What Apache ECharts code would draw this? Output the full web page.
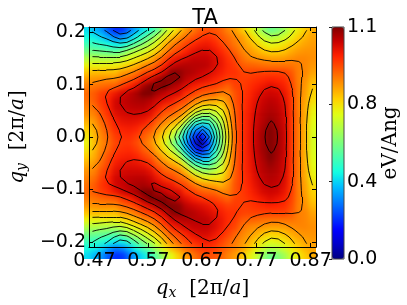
<!DOCTYPE html>
<html><head><meta charset="utf-8">
<style>html,body{margin:0;padding:0;background:#fff}#c{width:407px;height:305px}
canvas[data-zr-dom-id="zr_1"]{filter:blur(2.5px);clip-path:inset(27px 91px 46px 84px)}</style>
<script src="https://cdn.jsdelivr.net/npm/echarts@6/dist/echarts.min.js"></script>
</head><body><div id="c"></div>
<script>
const title = 'TA';
const qxRange = [0.46, 0.88];
const qyRange = [-0.21, 0.21];
const qxTicks = [0.47, 0.57, 0.67, 0.77, 0.87];
const qyTicks = [-0.2, -0.1, 0, 0.1, 0.2];
const cbarMax = 1.14;
const cbarTicks = [0, 0.38, 0.76, 1.14];
const contourLevels = [0.08,0.16,0.24,0.32,0.40,0.48,0.56,0.64,0.72,0.80,0.88,0.96,1.04,1.12];
const jet = ['#000080','#0000c8','#0000ff','#0040ff','#0080ff','#00bfff','#14ffe2','#48ffaf','#7bff7b','#afff48','#e2ff14','#ffd200','#ff9700','#ff5c00','#ff2100','#c80000','#800000'];
// group velocity, eV/Ang; rows run from top (qy = +) to bottom (qy = -), columns left to right
const velocity = [
[.39,.35,.31,.24,.19,.20,.27,.34,.40,.46,.54,.64,.72,.79,.85,.89,.93,.945,.94,.92,.88,.85,.80,.74,.68,.60,.55,.57,.62,.69,.745,.79,.83],
[.43,.41,.38,.33,.28,.30,.36,.43,.50,.57,.65,.74,.81,.86,.91,.94,.97,.985,.97,.94,.91,.88,.85,.80,.74,.68,.645,.66,.69,.74,.785,.82,.84],
[.49,.47,.46,.43,.41,.42,.48,.54,.60,.66,.73,.82,.88,.92,.96,.99,1.01,1.02,1.0,.965,.93,.895,.86,.83,.79,.745,.72,.735,.755,.79,.82,.84,.85],
[.56,.55,.54,.53,.52,.56,.62,.66,.69,.74,.80,.87,.93,.96,1.0,1.03,1.05,1.05,1.025,.995,.96,.92,.88,.855,.83,.80,.78,.785,.80,.83,.85,.86,.86],
[.645,.645,.64,.64,.64,.67,.71,.74,.775,.82,.88,.94,1.0,1.03,1.05,1.07,1.07,1.07,1.05,1.02,.98,.955,.905,.875,.865,.855,.845,.845,.85,.865,.875,.875,.865],
[.73,.73,.73,.74,.74,.76,.79,.82,.87,.895,.94,1.0,1.06,1.08,1.09,1.085,1.085,1.08,1.05,1.025,.99,.97,.93,.92,.915,.905,.90,.90,.90,.90,.885,.875,.855],
[.80,.81,.81,.81,.81,.85,.865,.90,.945,.96,1.01,1.06,1.13,1.13,1.10,1.09,1.07,1.055,1.035,1.01,.985,.98,.96,.955,.96,.96,.96,.96,.96,.935,.885,.875,.84],
[.85,.86,.87,.87,.87,.91,.93,.965,1.02,1.05,1.10,1.17,1.18,1.13,1.08,1.06,1.045,1.03,1.005,.985,.965,.97,.965,.97,.98,.99,1.0,.995,.985,.95,.885,.865,.815],
[.885,.90,.91,.92,.93,.97,1.0,1.04,1.10,1.17,1.18,1.15,1.10,1.075,1.04,1.01,.99,.975,.965,.945,.92,.96,.965,.98,1.0,1.02,1.04,1.025,1.005,.96,.89,.855,.795],
[.91,.93,.965,.985,1.02,1.055,1.075,1.10,1.14,1.14,1.10,1.07,1.05,1.045,.985,.965,.935,.92,.915,.885,.885,.94,.97,.99,1.02,1.05,1.06,1.055,1.025,.97,.89,.845,.78],
[.90,.93,.975,1.0,1.055,1.07,1.085,1.095,1.10,1.085,1.055,1.035,1.02,.975,.95,.905,.865,.85,.84,.82,.87,.94,.975,1.0,1.035,1.065,1.08,1.07,1.04,.975,.89,.84,.765],
[.88,.905,.96,1.0,1.055,1.065,1.075,1.08,1.08,1.06,1.02,.975,.955,.92,.895,.815,.76,.735,.75,.76,.84,.93,.975,1.005,1.045,1.075,1.09,1.08,1.05,.975,.89,.83,.74],
[.86,.88,.94,.98,1.035,1.05,1.055,1.055,1.05,1.03,.975,.925,.91,.88,.81,.685,.63,.61,.65,.705,.82,.925,.98,1.01,1.055,1.085,1.10,1.09,1.055,.975,.895,.83,.725],
[.825,.855,.915,.96,1.01,1.03,1.035,1.03,1.015,.98,.92,.885,.84,.80,.68,.515,.46,.46,.56,.655,.80,.925,.98,1.015,1.06,1.09,1.12,1.095,1.06,.975,.895,.825,.715],
[.79,.83,.895,.945,.99,1.005,1.01,1.0,.965,.935,.875,.82,.76,.685,.50,.345,.30,.325,.465,.61,.785,.92,.98,1.015,1.065,1.10,1.16,1.105,1.065,.975,.895,.82,.705],
[.755,.815,.88,.92,.97,.985,.99,.97,.93,.895,.83,.76,.68,.56,.38,.24,.14,.24,.405,.58,.765,.92,.98,1.02,1.07,1.11,1.18,1.11,1.07,.975,.895,.82,.70],
[.73,.81,.87,.91,.955,.975,.975,.95,.91,.87,.80,.725,.61,.49,.34,.17,.00,.16,.375,.56,.75,.92,.98,1.02,1.07,1.11,1.18,1.11,1.07,.975,.895,.82,.695],
[.755,.815,.88,.92,.97,.985,.99,.97,.93,.895,.83,.76,.68,.56,.38,.24,.14,.24,.405,.58,.765,.92,.98,1.02,1.07,1.11,1.18,1.11,1.07,.975,.895,.82,.70],
[.79,.83,.895,.945,.99,1.005,1.01,1.0,.965,.935,.875,.82,.76,.685,.50,.345,.30,.325,.465,.61,.785,.92,.98,1.015,1.065,1.10,1.16,1.105,1.065,.975,.895,.82,.705],
[.825,.855,.915,.96,1.01,1.03,1.035,1.03,1.015,.98,.92,.885,.84,.80,.68,.515,.46,.46,.56,.655,.80,.925,.98,1.015,1.06,1.09,1.12,1.095,1.06,.975,.895,.825,.715],
[.86,.88,.94,.98,1.035,1.05,1.055,1.055,1.05,1.03,.975,.925,.91,.88,.81,.685,.63,.61,.65,.705,.82,.925,.98,1.01,1.055,1.085,1.10,1.09,1.055,.975,.895,.83,.725],
[.88,.905,.96,1.0,1.055,1.065,1.075,1.08,1.08,1.06,1.02,.975,.955,.92,.895,.815,.76,.735,.75,.76,.84,.93,.975,1.005,1.045,1.075,1.09,1.08,1.05,.975,.89,.83,.74],
[.90,.93,.975,1.0,1.055,1.07,1.085,1.095,1.10,1.085,1.055,1.035,1.02,.975,.95,.905,.865,.85,.84,.82,.87,.94,.975,1.0,1.035,1.065,1.08,1.07,1.04,.975,.89,.84,.765],
[.91,.93,.965,.985,1.02,1.055,1.075,1.10,1.14,1.14,1.10,1.07,1.05,1.045,.985,.965,.935,.92,.915,.885,.885,.94,.97,.99,1.02,1.05,1.06,1.055,1.025,.97,.89,.845,.78],
[.885,.90,.91,.92,.93,.97,1.0,1.04,1.10,1.17,1.18,1.15,1.10,1.075,1.04,1.01,.99,.975,.965,.945,.92,.96,.965,.98,1.0,1.02,1.04,1.025,1.005,.96,.89,.855,.795],
[.85,.86,.87,.87,.87,.91,.93,.965,1.02,1.05,1.10,1.17,1.18,1.13,1.08,1.06,1.045,1.03,1.005,.985,.965,.97,.965,.97,.98,.99,1.0,.995,.985,.95,.885,.865,.815],
[.80,.81,.81,.81,.81,.85,.865,.90,.945,.96,1.01,1.06,1.13,1.13,1.10,1.09,1.07,1.055,1.035,1.01,.985,.98,.96,.955,.96,.96,.96,.96,.96,.935,.885,.875,.84],
[.73,.73,.73,.74,.74,.76,.79,.82,.87,.895,.94,1.0,1.06,1.08,1.09,1.085,1.085,1.08,1.05,1.025,.99,.97,.93,.92,.915,.905,.90,.90,.90,.90,.885,.875,.855],
[.645,.645,.64,.64,.64,.67,.71,.74,.775,.82,.88,.94,1.0,1.03,1.05,1.07,1.07,1.07,1.05,1.02,.98,.955,.905,.875,.865,.855,.845,.845,.85,.865,.875,.875,.865],
[.56,.55,.54,.53,.52,.56,.62,.66,.69,.74,.80,.87,.93,.96,1.0,1.03,1.05,1.05,1.025,.995,.96,.92,.88,.855,.83,.80,.78,.785,.80,.83,.85,.86,.86],
[.49,.47,.46,.43,.41,.42,.48,.54,.60,.66,.73,.82,.88,.92,.96,.99,1.01,1.02,1.0,.965,.93,.895,.86,.83,.79,.745,.72,.735,.755,.79,.82,.84,.85],
[.43,.41,.38,.33,.28,.30,.36,.43,.50,.57,.65,.74,.81,.86,.91,.94,.97,.985,.97,.94,.91,.88,.85,.80,.74,.68,.645,.66,.69,.74,.785,.82,.84],
[.39,.35,.31,.24,.19,.20,.27,.34,.40,.46,.54,.64,.72,.79,.85,.89,.93,.945,.94,.92,.88,.85,.80,.74,.68,.60,.55,.57,.62,.69,.745,.79,.83]
];

const nRows = velocity.length, nCols = velocity[0].length;
const qxAt = j => qxRange[0] + (qxRange[1] - qxRange[0]) * (j + 0.5) / nCols;
const qyAt = i => qyRange[1] - (qyRange[1] - qyRange[0]) * (i + 0.5) / nRows;
const cellW = 232 / nCols;

// heatmap cells, with the border cells repeated one step outside the clipped frame
const xCats = [], yCats = [], cells = [];
for (let j = -1; j <= nCols; j++) xCats.push(String(j));
for (let i = -1; i <= nRows; i++) yCats.push(String(i));
const clampIdx = (k, n) => Math.max(0, Math.min(n - 1, k));
for (let i = -1; i <= nRows; i++) for (let j = -1; j <= nCols; j++)
  cells.push([j + 1, nRows - i, velocity[clampIdx(i, nRows)][clampIdx(j, nCols)]]);

// light smoothing of the read values for contour tracing, away from the central basin
const traced = velocity.map((row, i) => row.map((v, j) => {
  let s = 0, w = 0;
  for (let a = -1; a <= 1; a++) for (let b = -1; b <= 1; b++) {
    const wt = (2 - Math.abs(a)) * (2 - Math.abs(b));
    s += wt * velocity[clampIdx(i + a, nRows)][clampIdx(j + b, nCols)]; w += wt;
  }
  const t = Math.max(0, Math.min(1, (v - 0.35) / 0.3));
  return v * (1 - t) + (s / w) * t;
}));

function contourSegments(level) {
  const segs = [];
  const cross = (x1, y1, v1, x2, y2, v2) => {
    const t = (level - v1) / (v2 - v1);
    return [x1 + (x2 - x1) * t, y1 + (y2 - y1) * t];
  };
  for (let i = 0; i < nRows - 1; i++) for (let j = 0; j < nCols - 1; j++) {
    const x0 = qxAt(j), x1 = qxAt(j + 1), y0 = qyAt(i), y1 = qyAt(i + 1);
    const a = traced[i][j], b = traced[i][j + 1], c = traced[i + 1][j + 1], d = traced[i + 1][j];
    const pts = [];
    if ((a < level) !== (b < level)) pts.push(cross(x0, y0, a, x1, y0, b));
    if ((b < level) !== (c < level)) pts.push(cross(x1, y0, b, x1, y1, c));
    if ((d < level) !== (c < level)) pts.push(cross(x0, y1, d, x1, y1, c));
    if ((a < level) !== (d < level)) pts.push(cross(x0, y0, a, x0, y1, d));
    if (pts.length === 2) segs.push({coords: [pts[0], pts[1]]});
    if (pts.length === 4) { segs.push({coords: [pts[0], pts[1]]}); segs.push({coords: [pts[2], pts[3]]}); }
  }
  return segs;
}
const contourData = contourLevels.flatMap(contourSegments);

const tickFont = {fontFamily: 'DejaVu Sans', fontSize: 19, color: '#000'};
const chart = echarts.init(document.getElementById('c'), null, {renderer: 'canvas'});
const nameRich = {
  i: {fontFamily: 'DejaVu Serif', fontStyle: 'italic', fontSize: 20, color: '#000'},
  s: {fontFamily: 'DejaVu Serif', fontStyle: 'italic', fontSize: 14, color: '#000', verticalAlign: 'bottom', padding: [8, 0, 0, 0]},
  r: {fontFamily: 'DejaVu Serif', fontSize: 20, color: '#000'}
};
const frameAxis = {show: true, zlevel: 2, z: 5, axisLine: {show: true, onZero: false, lineStyle: {color: '#000', width: 1}}, splitLine: {show: false}};
const tick = vals => ({show: true, inside: true, length: 4, customValues: vals, lineStyle: {color: '#000', width: 1}});
chart.setOption({
  animation: false,
  title: {text: title, left: 200, top: 3, textAlign: 'center',
    textStyle: {fontFamily: 'DejaVu Sans', fontSize: 21, fontWeight: 'normal', color: '#000'}},
  grid: [
    {left: 84, top: 27, width: 232, height: 232},
    {left: 332, top: 27, width: 12, height: 232, show: true, z: 6, backgroundColor: 'transparent', borderColor: '#444', borderWidth: 1},
    {left: 84 - cellW, top: 27 - cellW, width: 232 + 2 * cellW, height: 232 + 2 * cellW}
  ],
  xAxis: [
    {type: 'category', gridIndex: 2, data: xCats, show: false},
    Object.assign({}, frameAxis, {type: 'value', gridIndex: 0, position: 'bottom', min: qxRange[0], max: qxRange[1],
      axisTick: tick(qxTicks),
      axisLabel: Object.assign({customValues: qxTicks, margin: 5, formatter: v => v.toFixed(2)}, tickFont),
      name: '{i|q}{s|x}{r|  [2π/}{i|a}{r|]}', nameLocation: 'middle', nameGap: 31, nameTextStyle: {rich: nameRich}}),
    Object.assign({}, frameAxis, {type: 'value', gridIndex: 0, position: 'top', min: qxRange[0], max: qxRange[1],
      axisTick: tick(qxTicks), axisLabel: {show: false, customValues: qxTicks}}),
    {type: 'value', gridIndex: 1, min: 0, max: 1, show: false}
  ],
  yAxis: [
    {type: 'category', gridIndex: 2, data: yCats, show: false},
    Object.assign({}, frameAxis, {type: 'value', gridIndex: 0, position: 'left', min: qyRange[0], max: qyRange[1],
      axisTick: tick(qyTicks),
      axisLabel: Object.assign({customValues: qyTicks, margin: 3, formatter: v => (v < 0 ? '\u2212' : '') + Math.abs(v).toFixed(1)}, tickFont),
      name: '{i|q}{s|y}{r|  [2π/}{i|a}{r|]}', nameLocation: 'middle', nameRotate: 90, nameGap: 56, nameTextStyle: {rich: nameRich}}),
    Object.assign({}, frameAxis, {type: 'value', gridIndex: 0, position: 'right', min: qyRange[0], max: qyRange[1],
      axisTick: tick(qyTicks), axisLabel: {show: false, customValues: qyTicks}}),
    {type: 'value', gridIndex: 1, position: 'right', min: 0, max: cbarMax, z: 7,
      axisLine: {show: false}, splitLine: {show: false},
      axisTick: {show: true, inside: true, length: 3, customValues: cbarTicks, lineStyle: {color: '#222'}},
      axisLabel: Object.assign({customValues: cbarTicks, margin: 3, formatter: v => v.toFixed(1)}, tickFont),
      name: 'eV/Ang', nameLocation: 'middle', nameRotate: 90, nameGap: 36,
      nameTextStyle: {fontFamily: 'DejaVu Serif', fontSize: 20, color: '#000'}}
  ],
  visualMap: {type: 'continuous', seriesIndex: 0, min: 0, max: cbarMax, left: 332, top: 27, padding: 0,
    itemWidth: 12, itemHeight: 232, text: null, showLabel: false, calculable: false, z: 1, hoverLink: false,
    inRange: {color: jet}},
  series: [
    {type: 'heatmap', xAxisIndex: 0, yAxisIndex: 0, data: cells, progressive: 0, silent: true, zlevel: 1, z: 1},
    {type: 'lines', coordinateSystem: 'cartesian2d', xAxisIndex: 1, yAxisIndex: 1, data: contourData, silent: true, zlevel: 2, z: 3, progressive: 0,
      lineStyle: {color: '#000', width: 1, opacity: 0.9, curveness: 0}}
  ]
});
</script></body></html>
